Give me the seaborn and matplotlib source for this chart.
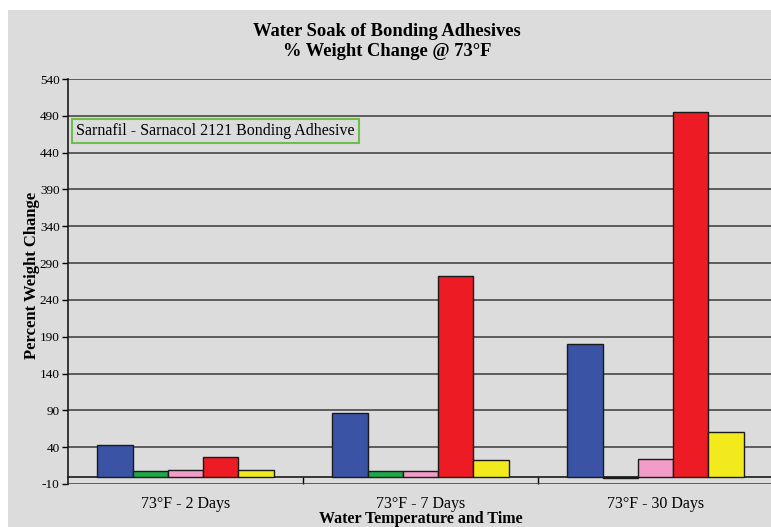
import matplotlib
matplotlib.use("Agg")
import matplotlib.pyplot as plt
from matplotlib.patches import Rectangle
from matplotlib.ticker import FixedLocator
import pandas as pd
import seaborn as sns

# values (percent weight change)
periods = ["73°F - 2 Days", "73°F - 7 Days", "73°F - 30 Days"]
adhesives = ["Adhesive 1", "Adhesive 2", "Adhesive 3", "Adhesive 4", "Adhesive 5"]
adhesive_1 = [43, 86, 180]
adhesive_2 = [8, 8, -2]
adhesive_3 = [9, 7, 24]
adhesive_4 = [27, 273, 495]
adhesive_5 = [9, 23, 60]
colors = ["#3a53a4", "#1ea84a", "#f29cc8", "#ed1c24", "#f2ea1c"]
y_ticks = list(range(-10, 541, 50))

rows = []
for name, vals in zip(adhesives, [adhesive_1, adhesive_2, adhesive_3, adhesive_4, adhesive_5]):
    for p, v in zip(periods, vals):
        rows.append({"period": p, "adhesive": name, "change": v})
df = pd.DataFrame(rows)

sns.set_style("white")
plt.rcParams["font.family"] = ["Liberation Serif", "DejaVu Serif"]
plt.rcParams["text.color"] = "black"
plt.rcParams["axes.labelcolor"] = "black"
plt.rcParams["xtick.color"] = "black"
plt.rcParams["ytick.color"] = "black"

bg = "#dcdcdc"
fig = plt.figure(figsize=(7.71, 5.27), dpi=100, facecolor="white")
fig.patches.append(Rectangle((8 / 771, 0), 1, 1 - 10 / 527, transform=fig.transFigure,
                             facecolor=bg, edgecolor="none", zorder=-10))
ax = fig.add_axes([68 / 771, 43 / 527, 705 / 771, 405 / 527])
ax.set_facecolor(bg)

sns.barplot(data=df, x="period", y="change", hue="adhesive", palette=colors,
            saturation=1, width=0.75, gap=0, edgecolor="#1a1a1a", linewidth=1.0,
            legend=False, ax=ax, zorder=3)

ax.set_xlim(-0.5, 2.5)
ax.set_ylim(-10, 540)
ax.set_yticks(y_ticks)
ax.set_yticklabels([str(t) for t in y_ticks], fontsize=9.5)
ax.grid(axis="y", color="#3a3a3a", linewidth=1.1)
ax.set_axisbelow(True)

for s in ["top", "right"]:
    ax.spines[s].set_visible(False)
ax.spines["left"].set_color("#1a1a1a")
ax.spines["left"].set_linewidth(1.2)
ax.spines["bottom"].set_position(("data", 0))
ax.spines["bottom"].set_color("#1a1a1a")
ax.spines["bottom"].set_linewidth(1.2)

ax.tick_params(axis="y", direction="out", length=4, width=1, pad=2, left=True)
ax.tick_params(axis="x", which="major", length=0, pad=14, labelsize=11.5)
ax.xaxis.set_minor_locator(FixedLocator([0.5, 1.5]))
ax.tick_params(axis="x", which="minor", direction="out", length=5, width=1, bottom=True)

ax.set_xlabel("Water Temperature and Time", fontsize=11.5, fontweight="bold")
ax.xaxis.set_label_coords(0.5, -0.066)
ax.set_ylabel("Percent Weight Change", fontsize=12, fontweight="bold")
ax.yaxis.set_label_coords(-0.040, 0.516)

ax.text(0.012, 0.872, "Sarnafil - Sarnacol 2121 Bonding Adhesive", transform=ax.transAxes,
        fontsize=11.5, va="center", ha="left", zorder=5,
        bbox=dict(boxstyle="square,pad=0.25", facecolor=bg, edgecolor="#6cbf4a", linewidth=1.5))

fig.text(0.502, 0.921, "Water Soak of Bonding Adhesives\n% Weight Change @ 73°F",
         ha="center", va="center", fontsize=13.3, fontweight="bold", linespacing=1.2)

fig.savefig("out.png", dpi=100, facecolor="white")
